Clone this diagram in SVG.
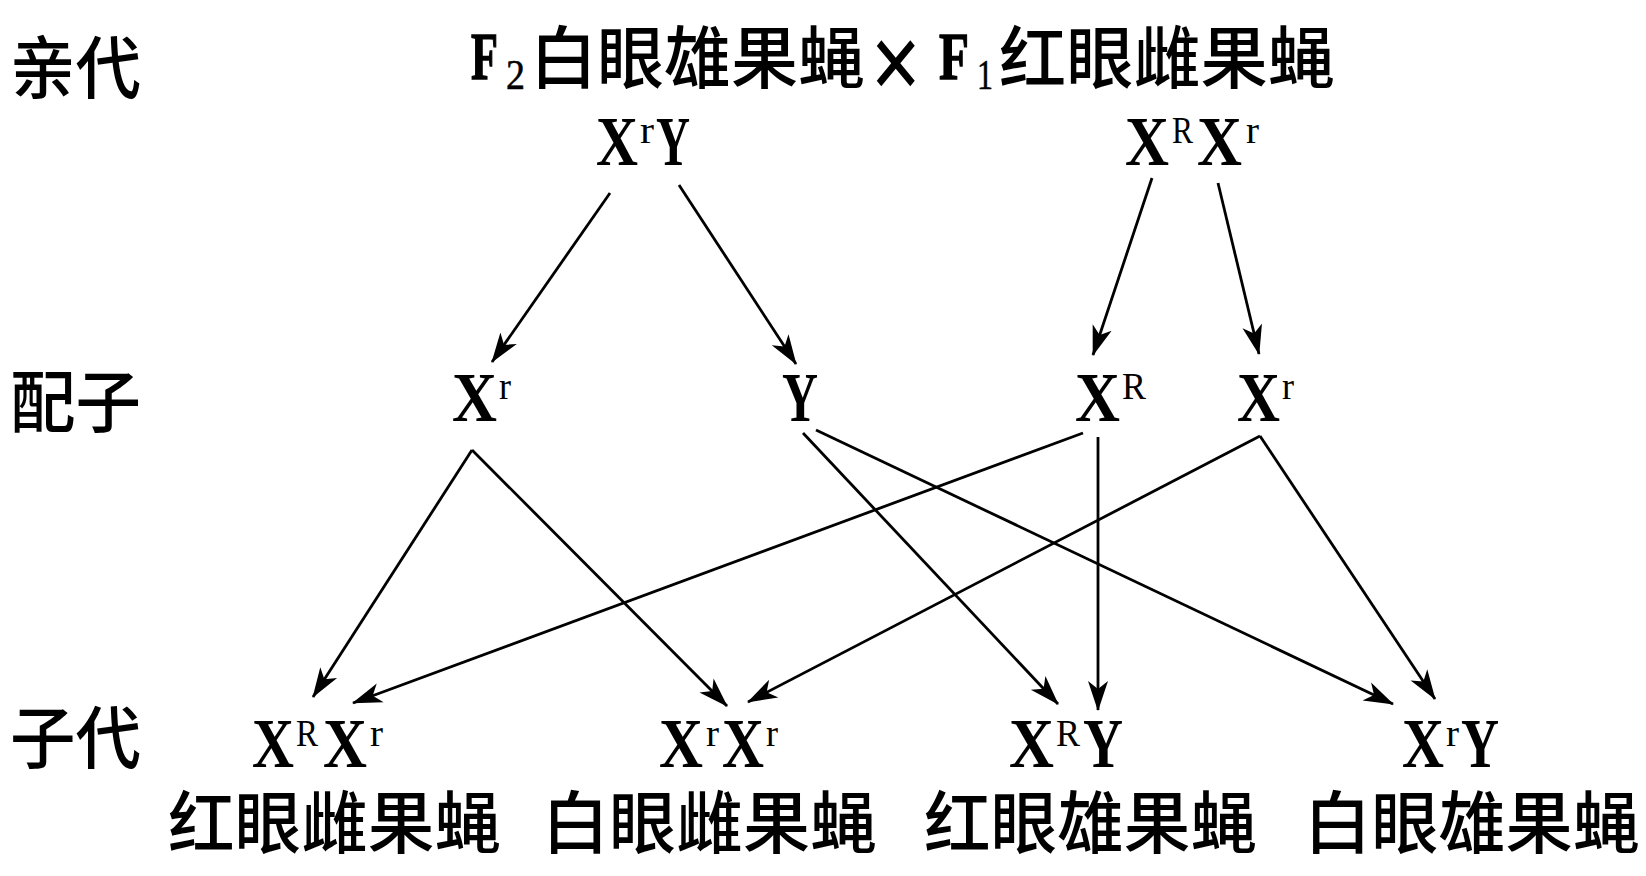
<svg xmlns="http://www.w3.org/2000/svg" width="1646" height="876" viewBox="0 0 1646 876">
<style>
.cjk{font-family:"Noto Sans CJK SC","Noto Sans CJK TC",sans-serif;font-size:68px;font-weight:500;fill:#000}
.b{font-family:"Liberation Serif",serif;font-weight:bold;font-size:70px;fill:#000}
.r{font-family:"Liberation Serif",serif;font-weight:bold;font-size:68px;fill:#000;stroke:#000;stroke-width:1.4}
.s{font-family:"Liberation Serif",serif;font-size:38px;fill:#000}
.sub{font-family:"Liberation Serif",serif;font-size:42px;fill:#000;stroke:#000;stroke-width:0.6}
.x{font-family:"Liberation Serif",serif;font-weight:bold;font-size:110px;fill:#000}
.ln{stroke:#000;stroke-width:2.8;fill:none;marker-end:url(#ah)}
</style>
<defs>
<marker id="ah" markerUnits="userSpaceOnUse" markerWidth="30" markerHeight="22" viewBox="0 0 30 22" refX="29" refY="11" orient="auto">
<path d="M0,1 L30,11 L0,21 L8,11 Z" fill="#000"/>
</marker>
</defs>
<rect width="1646" height="876" fill="#fff"/>
<g id="row-labels">
<text class="cjk" x="10" y="93" textLength="131" lengthAdjust="spacingAndGlyphs">亲代</text>
<text class="cjk" x="10" y="427" textLength="131" lengthAdjust="spacingAndGlyphs">配子</text>
<text class="cjk" x="10" y="763" textLength="131" lengthAdjust="spacingAndGlyphs">子代</text>
</g>
<g id="title">
<text class="r" x="471" y="79" textLength="27" lengthAdjust="spacingAndGlyphs">F</text>
<text class="sub" x="506" y="89" textLength="19" lengthAdjust="spacingAndGlyphs">2</text>
<text class="cjk" x="530" y="83" textLength="335" lengthAdjust="spacingAndGlyphs">白眼雄果蝇</text>
<text class="x" x="870" y="100" textLength="52" lengthAdjust="spacingAndGlyphs">×</text>
<text class="r" x="939" y="79" textLength="30" lengthAdjust="spacingAndGlyphs">F</text>
<text class="sub" x="977" y="89" textLength="16" lengthAdjust="spacingAndGlyphs">1</text>
<text class="cjk" x="999" y="83" textLength="336" lengthAdjust="spacingAndGlyphs">红眼雌果蝇</text>
</g>
<g id="p-male">
<text class="b" x="596" y="165" textLength="42" lengthAdjust="spacingAndGlyphs">X</text>
<text class="s" x="640" y="143" textLength="14" lengthAdjust="spacingAndGlyphs">r</text>
<text class="b" x="656" y="165" textLength="34" lengthAdjust="spacingAndGlyphs">Y</text>
</g>
<g id="p-female">
<text class="b" x="1125" y="165" textLength="44" lengthAdjust="spacingAndGlyphs">X</text>
<text class="s" x="1172" y="143" textLength="21" lengthAdjust="spacingAndGlyphs">R</text>
<text class="b" x="1197" y="165" textLength="45" lengthAdjust="spacingAndGlyphs">X</text>
<text class="s" x="1246" y="143" textLength="13" lengthAdjust="spacingAndGlyphs">r</text>
</g>
<g id="g-xr1">
<text class="b" x="452" y="421" textLength="45" lengthAdjust="spacingAndGlyphs">X</text>
<text class="s" x="499" y="399" textLength="12" lengthAdjust="spacingAndGlyphs">r</text>
</g>
<g id="g-y">
<text class="b" x="782" y="421" textLength="36" lengthAdjust="spacingAndGlyphs">Y</text>
</g>
<g id="g-xR">
<text class="b" x="1075" y="421" textLength="45" lengthAdjust="spacingAndGlyphs">X</text>
<text class="s" x="1122" y="399" textLength="24" lengthAdjust="spacingAndGlyphs">R</text>
</g>
<g id="g-xr2">
<text class="b" x="1237" y="421" textLength="43" lengthAdjust="spacingAndGlyphs">X</text>
<text class="s" x="1282" y="399" textLength="12" lengthAdjust="spacingAndGlyphs">r</text>
</g>
<g id="o1">
<text class="b" x="252" y="767" textLength="42" lengthAdjust="spacingAndGlyphs">X</text>
<text class="s" x="296" y="746" textLength="22" lengthAdjust="spacingAndGlyphs">R</text>
<text class="b" x="323" y="767" textLength="44" lengthAdjust="spacingAndGlyphs">X</text>
<text class="s" x="370" y="746" textLength="13" lengthAdjust="spacingAndGlyphs">r</text>
<text class="cjk" x="168" y="848" textLength="333" lengthAdjust="spacingAndGlyphs">红眼雌果蝇</text>
</g>
<g id="o2">
<text class="b" x="659" y="767" textLength="44" lengthAdjust="spacingAndGlyphs">X</text>
<text class="s" x="706" y="746" textLength="13" lengthAdjust="spacingAndGlyphs">r</text>
<text class="b" x="722" y="767" textLength="42" lengthAdjust="spacingAndGlyphs">X</text>
<text class="s" x="766" y="746" textLength="12" lengthAdjust="spacingAndGlyphs">r</text>
<text class="cjk" x="542" y="848" textLength="335" lengthAdjust="spacingAndGlyphs">白眼雌果蝇</text>
</g>
<g id="o3">
<text class="b" x="1009" y="767" textLength="45" lengthAdjust="spacingAndGlyphs">X</text>
<text class="s" x="1056" y="746" textLength="24" lengthAdjust="spacingAndGlyphs">R</text>
<text class="b" x="1083" y="767" textLength="40" lengthAdjust="spacingAndGlyphs">Y</text>
<text class="cjk" x="924" y="848" textLength="333" lengthAdjust="spacingAndGlyphs">红眼雄果蝇</text>
</g>
<g id="o4">
<text class="b" x="1402" y="767" textLength="42" lengthAdjust="spacingAndGlyphs">X</text>
<text class="s" x="1446" y="746" textLength="13" lengthAdjust="spacingAndGlyphs">r</text>
<text class="b" x="1461" y="767" textLength="38" lengthAdjust="spacingAndGlyphs">Y</text>
<text class="cjk" x="1304" y="848" textLength="336" lengthAdjust="spacingAndGlyphs">白眼雄果蝇</text>
</g>
<g id="connectors">
<line class="ln" x1="610" y1="193" x2="492" y2="362"/>
<line class="ln" x1="679" y1="185" x2="796" y2="364"/>
<line class="ln" x1="1152" y1="178" x2="1093" y2="355"/>
<line class="ln" x1="1218" y1="183" x2="1259" y2="354"/>
<line class="ln" x1="472" y1="450" x2="313" y2="697"/>
<line class="ln" x1="472" y1="450" x2="727" y2="706"/>
<line class="ln" x1="803" y1="433" x2="1058" y2="704"/>
<line class="ln" x1="816" y1="430" x2="1393" y2="704"/>
<line class="ln" x1="1083" y1="433" x2="353" y2="703"/>
<line class="ln" x1="1098" y1="437" x2="1098" y2="710"/>
<line class="ln" x1="1260" y1="436" x2="748" y2="702"/>
<line class="ln" x1="1260" y1="436" x2="1435" y2="699"/>
</g>
</svg>
